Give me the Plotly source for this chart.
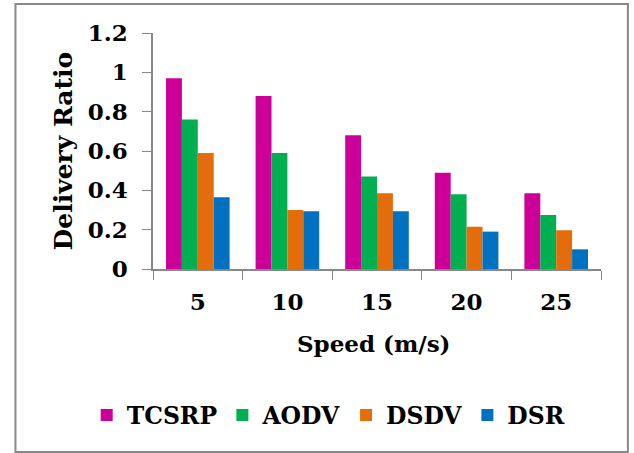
import plotly.graph_objects as go

speeds = ["5", "10", "15", "20", "25"]
series_names = ["TCSRP", "AODV", "DSDV", "DSR"]
tcsrp = [0.97, 0.88, 0.68, 0.49, 0.385]
aodv = [0.76, 0.59, 0.47, 0.38, 0.275]
dsdv = [0.59, 0.30, 0.385, 0.215, 0.197]
dsr = [0.365, 0.294, 0.294, 0.19, 0.10]
colors = ["#CC0099", "#00B050", "#E46C0A", "#0070C0"]
y_ticks = [0, 0.2, 0.4, 0.6, 0.8, 1.0, 1.2]
y_tick_text = ["0", "0.2", "0.4", "0.6", "0.8", "1", "1.2"]

serif = "DejaVu Serif"
fig = go.Figure()
for name, vals, col in zip(series_names, [tcsrp, aodv, dsdv, dsr], colors):
    fig.add_trace(go.Bar(x=speeds, y=vals, name=name, marker_color=col,
                         marker_line_width=0))

fig.update_layout(
    width=634, height=453,
    margin=dict(l=153, r=33, t=33, b=184),
    paper_bgcolor="white", plot_bgcolor="white",
    barmode="group", bargap=0.29, bargroupgap=0,
    font=dict(family=serif, size=20, color="black"),
    showlegend=True,
    legend=dict(orientation="h", x=-0.148, xanchor="left", y=-0.62, yanchor="middle",
                font=dict(family=serif, size=23.5, color="black", weight="bold"),
                itemwidth=30, tracegroupgap=0),
    xaxis=dict(showline=True, linecolor="#888888", linewidth=1.5,
               ticks="outside", tickson="boundaries", ticklen=9, tickcolor="#888888",
               ticklabelstandoff=12,
               tickfont=dict(family=serif, size=23, weight="bold"),
               showgrid=False, zeroline=False),
    yaxis=dict(range=[0, 1.2], tickvals=y_ticks, ticktext=y_tick_text,
               showline=True, linecolor="#888888", linewidth=1.5,
               ticks="outside", ticklen=9, tickcolor="#888888", ticklabelstandoff=10,
               tickfont=dict(family=serif, size=23, weight="bold"),
               showgrid=False, zeroline=False),
)
fig.add_annotation(text="Speed (m/s)", x=0.494, y=-0.3136, xref="paper", yref="paper",
                   xanchor="center", yanchor="middle", showarrow=False,
                   font=dict(family=serif, size=23, color="black", weight="bold"))
fig.add_annotation(text="Delivery Ratio", x=-0.2, y=0.5, xref="paper", yref="paper",
                   xanchor="center", yanchor="middle", showarrow=False, textangle=-90,
                   font=dict(family=serif, size=25, color="black", weight="bold"))
fig.add_shape(type="rect", xref="paper", yref="paper",
              x0=-0.307, x1=1.06, y0=-0.775, y1=1.123,
              line=dict(color="#888888", width=2), fillcolor="rgba(0,0,0,0)")

fig.write_html("out.html")
